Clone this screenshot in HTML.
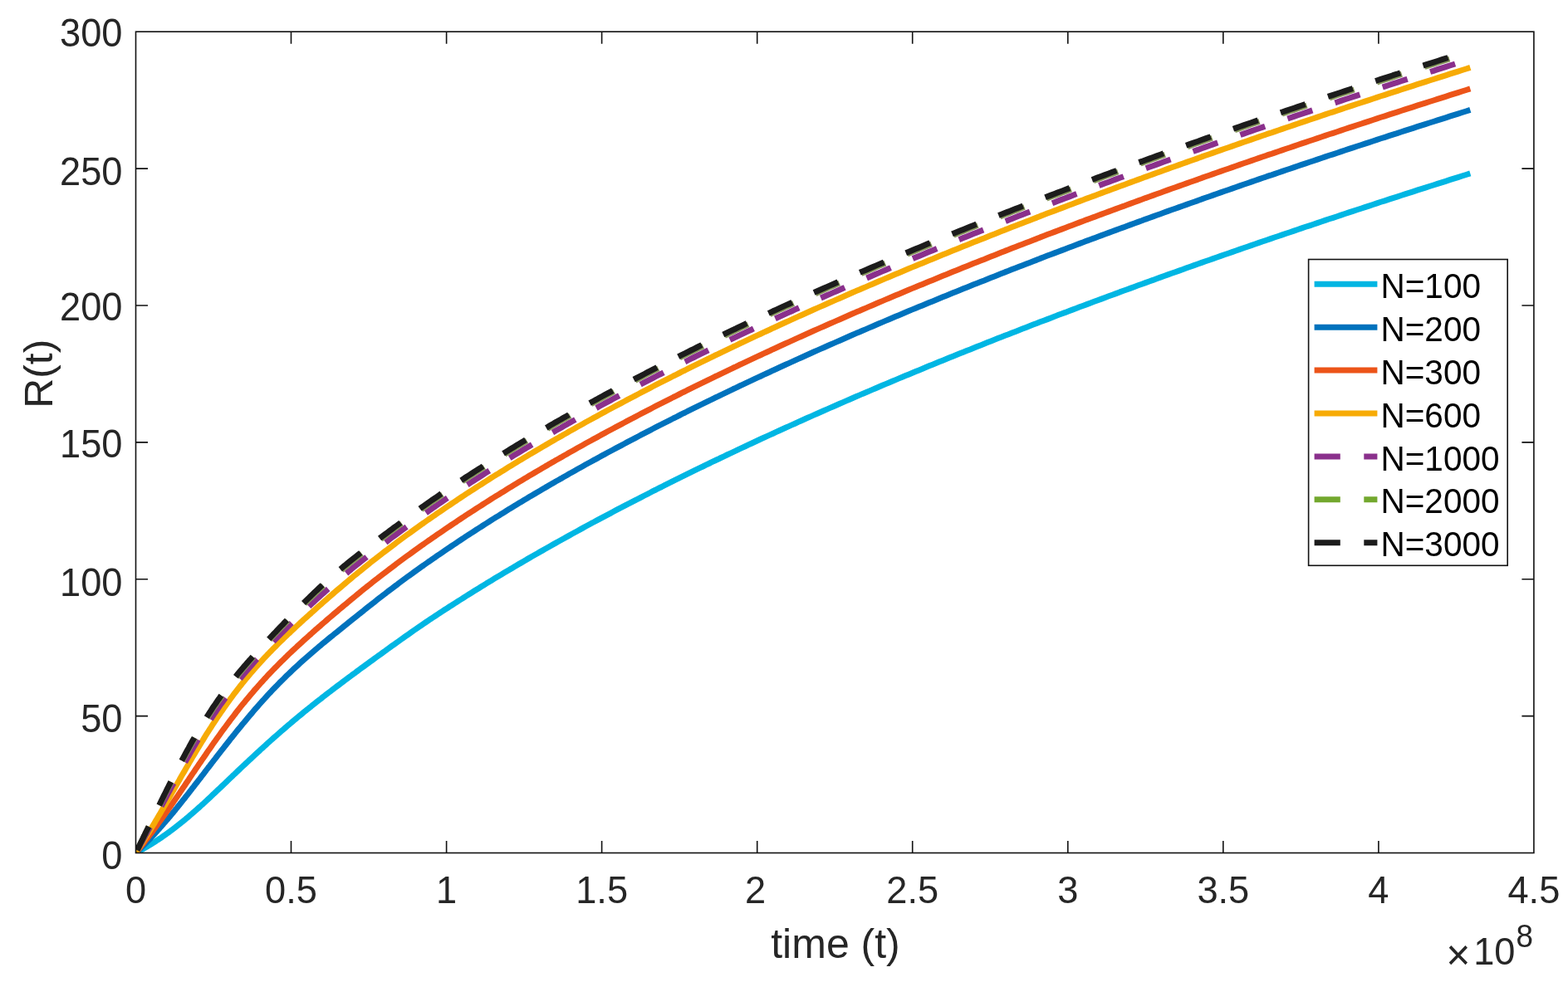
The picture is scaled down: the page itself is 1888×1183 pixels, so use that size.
<!DOCTYPE html>
<html lang="en"><head><meta charset="utf-8"><title>R(t) vs time (t)</title>
<style>
html,body{margin:0;padding:0;background:#fff;}
body{width:1888px;height:1183px;overflow:hidden;}
svg{display:block;}
text{font-family:"Liberation Sans", Arial, Helvetica, sans-serif;fill:#262626;}
.tk{font-size:45.2px;}
.lb{font-size:50px;}
.lg{font-size:40.5px;fill:#000;}
.ax{stroke:#111111;stroke-width:1.6;fill:none;}
.cv{fill:none;stroke-width:7.0;stroke-linejoin:round;stroke-linecap:butt;}
</style></head><body>
<svg width="1888" height="1183" viewBox="0 0 1888 1183">
<rect x="0" y="0" width="1888" height="1183" fill="#ffffff"/>
<defs><clipPath id="cp"><rect x="163.5" y="38.2" width="1683.4" height="989.3"/></clipPath></defs>
<g clip-path="url(#cp)">
<path class="cv" stroke="#00B6E3" d="M163.5,1027.5 L163.6,1027.5 L163.7,1027.4 L163.9,1027.3 L164.2,1027.1 L164.5,1027.0 L164.8,1026.8 L165.1,1026.6 L165.5,1026.4 L165.9,1026.2 L166.4,1026.0 L166.9,1025.7 L167.4,1025.4 L167.9,1025.1 L168.5,1024.8 L169.0,1024.5 L169.6,1024.2 L170.3,1023.8 L170.9,1023.5 L171.6,1023.1 L172.3,1022.7 L173.0,1022.3 L173.7,1021.9 L174.5,1021.4 L175.2,1021.0 L176.0,1020.5 L176.9,1020.1 L177.7,1019.6 L178.5,1019.1 L179.4,1018.5 L180.3,1018.0 L181.2,1017.4 L182.1,1016.9 L183.1,1016.3 L184.0,1015.7 L185.0,1015.1 L186.0,1014.4 L187.0,1013.8 L188.0,1013.1 L189.1,1012.4 L190.1,1011.7 L191.2,1011.0 L192.3,1010.3 L193.4,1009.6 L194.5,1008.8 L195.6,1008.0 L196.8,1007.2 L197.9,1006.4 L199.1,1005.6 L200.3,1004.7 L201.5,1003.8 L202.7,1003.0 L204.0,1002.1 L205.2,1001.1 L206.5,1000.2 L207.8,999.2 L209.1,998.2 L210.4,997.2 L211.7,996.2 L213.1,995.2 L214.4,994.1 L215.8,993.0 L217.1,991.9 L218.5,990.8 L219.9,989.7 L221.4,988.5 L222.8,987.3 L224.2,986.1 L225.7,984.9 L227.2,983.7 L228.6,982.4 L230.1,981.1 L231.6,979.8 L233.2,978.5 L234.7,977.1 L236.2,975.8 L237.8,974.4 L239.4,973.0 L241.0,971.6 L242.5,970.1 L244.2,968.7 L245.8,967.2 L247.4,965.7 L249.0,964.2 L250.7,962.6 L252.4,961.1 L254.1,959.5 L255.7,957.9 L257.4,956.3 L259.2,954.7 L260.9,953.0 L262.6,951.4 L264.4,949.7 L266.1,948.1 L267.9,946.4 L269.7,944.7 L271.5,943.0 L273.3,941.2 L275.1,939.5 L276.9,937.8 L278.8,936.0 L280.6,934.2 L282.5,932.5 L284.3,930.7 L286.2,928.9 L288.1,927.1 L290.0,925.3 L291.9,923.5 L293.9,921.7 L295.8,919.9 L297.8,918.0 L299.7,916.2 L301.7,914.4 L303.7,912.5 L305.6,910.7 L307.6,908.8 L309.7,906.9 L311.7,905.1 L313.7,903.2 L315.8,901.4 L317.8,899.5 L319.9,897.6 L321.9,895.7 L324.0,893.9 L326.1,892.0 L328.2,890.1 L330.3,888.2 L332.5,886.4 L334.6,884.5 L336.7,882.6 L338.9,880.7 L341.1,878.8 L343.2,877.0 L345.4,875.1 L347.6,873.2 L349.8,871.4 L352.0,869.5 L354.2,867.6 L356.5,865.7 L358.7,863.9 L361.0,862.0 L363.2,860.2 L365.5,858.3 L367.8,856.4 L370.1,854.6 L372.4,852.7 L374.7,850.9 L377.0,849.0 L379.3,847.2 L381.7,845.3 L384.0,843.5 L386.4,841.7 L388.7,839.8 L391.1,838.0 L393.5,836.1 L395.9,834.3 L398.3,832.5 L400.7,830.6 L403.1,828.8 L405.6,826.9 L408.0,825.1 L410.5,823.2 L412.9,821.4 L415.4,819.5 L417.9,817.7 L420.3,815.8 L422.8,814.0 L425.3,812.1 L427.9,810.3 L430.4,808.4 L432.9,806.5 L435.4,804.7 L438.0,802.8 L440.6,800.9 L443.1,799.1 L445.7,797.2 L448.3,795.3 L450.9,793.4 L453.5,791.5 L456.1,789.6 L458.7,787.8 L461.3,785.9 L464.0,784.0 L466.6,782.0 L469.3,780.1 L471.9,778.2 L474.6,776.3 L477.3,774.4 L480.0,772.5 L482.7,770.5 L485.4,768.6 L488.1,766.7 L490.8,764.8 L493.6,762.8 L496.3,760.9 L499.0,759.0 L501.8,757.1 L504.6,755.2 L507.3,753.3 L510.1,751.4 L512.9,749.5 L515.7,747.6 L518.5,745.7 L521.3,743.9 L524.2,742.0 L527.0,740.1 L529.8,738.3 L532.7,736.4 L535.5,734.5 L538.4,732.7 L541.3,730.8 L544.2,729.0 L547.1,727.1 L550.0,725.3 L552.9,723.4 L555.8,721.6 L558.7,719.7 L561.6,717.9 L564.6,716.0 L567.5,714.2 L570.5,712.3 L573.4,710.5 L576.4,708.7 L579.4,706.8 L582.4,705.0 L585.4,703.1 L588.4,701.3 L591.4,699.5 L594.4,697.6 L597.4,695.8 L600.5,694.0 L603.5,692.2 L606.6,690.3 L609.6,688.5 L612.7,686.7 L615.8,684.9 L618.9,683.0 L621.9,681.2 L625.0,679.4 L628.2,677.6 L631.3,675.8 L634.4,673.9 L637.5,672.1 L640.7,670.3 L643.8,668.5 L647.0,666.7 L650.1,664.9 L653.3,663.1 L656.5,661.3 L659.7,659.5 L662.8,657.7 L666.0,655.9 L669.2,654.1 L672.5,652.3 L675.7,650.5 L678.9,648.7 L682.2,646.9 L685.4,645.1 L688.7,643.3 L691.9,641.5 L695.2,639.7 L698.5,637.9 L701.7,636.1 L705.0,634.3 L708.3,632.5 L711.6,630.7 L714.9,629.0 L718.3,627.2 L721.6,625.4 L724.9,623.6 L728.3,621.8 L731.6,620.1 L735.0,618.3 L738.3,616.5 L741.7,614.7 L745.1,612.9 L748.5,611.2 L751.9,609.4 L755.3,607.6 L758.7,605.9 L762.1,604.1 L765.5,602.3 L769.0,600.6 L772.4,598.8 L775.9,597.0 L779.3,595.3 L782.8,593.5 L786.2,591.7 L789.7,590.0 L793.2,588.2 L796.7,586.5 L800.2,584.7 L803.7,582.9 L807.2,581.2 L810.7,579.4 L814.2,577.7 L817.8,575.9 L821.3,574.2 L824.9,572.4 L828.4,570.7 L832.0,568.9 L835.5,567.2 L839.1,565.4 L842.7,563.7 L846.3,562.0 L849.9,560.2 L853.5,558.5 L857.1,556.7 L860.7,555.0 L864.4,553.3 L868.0,551.5 L871.6,549.8 L875.3,548.0 L878.9,546.3 L882.6,544.6 L886.3,542.9 L889.9,541.1 L893.6,539.4 L897.3,537.7 L901.0,535.9 L904.7,534.2 L908.4,532.5 L912.1,530.8 L915.8,529.0 L919.6,527.3 L923.3,525.6 L927.1,523.9 L930.8,522.2 L934.6,520.4 L938.3,518.7 L942.1,517.0 L945.9,515.3 L949.7,513.6 L953.5,511.9 L957.3,510.2 L961.1,508.4 L964.9,506.7 L968.7,505.0 L972.5,503.3 L976.4,501.6 L980.2,499.9 L984.0,498.2 L987.9,496.5 L991.8,494.8 L995.6,493.1 L999.5,491.4 L1003.4,489.7 L1007.3,488.0 L1011.2,486.3 L1015.1,484.6 L1019.0,482.9 L1022.9,481.2 L1026.8,479.5 L1030.7,477.8 L1034.7,476.1 L1038.6,474.4 L1042.6,472.8 L1046.5,471.1 L1050.5,469.4 L1054.4,467.7 L1058.4,466.0 L1062.4,464.3 L1066.4,462.6 L1070.4,461.0 L1074.4,459.3 L1078.4,457.6 L1082.4,455.9 L1086.4,454.2 L1090.4,452.6 L1094.5,450.9 L1098.5,449.2 L1102.6,447.5 L1106.6,445.9 L1110.7,444.2 L1114.7,442.5 L1118.8,440.8 L1122.9,439.2 L1127.0,437.5 L1131.1,435.8 L1135.2,434.2 L1139.3,432.5 L1143.4,430.8 L1147.5,429.2 L1151.6,427.5 L1155.8,425.8 L1159.9,424.2 L1164.0,422.5 L1168.2,420.9 L1172.3,419.2 L1176.5,417.5 L1180.7,415.9 L1184.9,414.2 L1189.0,412.6 L1193.2,410.9 L1197.4,409.3 L1201.6,407.6 L1205.8,406.0 L1210.0,404.3 L1214.3,402.7 L1218.5,401.0 L1222.7,399.4 L1227.0,397.7 L1231.2,396.1 L1235.5,394.4 L1239.7,392.8 L1244.0,391.1 L1248.3,389.5 L1252.5,387.8 L1256.8,386.2 L1261.1,384.6 L1265.4,382.9 L1269.7,381.3 L1274.0,379.6 L1278.3,378.0 L1282.7,376.4 L1287.0,374.7 L1291.3,373.1 L1295.7,371.5 L1300.0,369.8 L1304.4,368.2 L1308.7,366.6 L1313.1,364.9 L1317.5,363.3 L1321.8,361.7 L1326.2,360.1 L1330.6,358.4 L1335.0,356.8 L1339.4,355.2 L1343.8,353.6 L1348.2,351.9 L1352.7,350.3 L1357.1,348.7 L1361.5,347.1 L1366.0,345.4 L1370.4,343.8 L1374.9,342.2 L1379.3,340.6 L1383.8,339.0 L1388.3,337.4 L1392.7,335.7 L1397.2,334.1 L1401.7,332.5 L1406.2,330.9 L1410.7,329.3 L1415.2,327.7 L1419.7,326.1 L1424.3,324.5 L1428.8,322.8 L1433.3,321.2 L1437.8,319.6 L1442.4,318.0 L1446.9,316.4 L1451.5,314.8 L1456.1,313.2 L1460.6,311.6 L1465.2,310.0 L1469.8,308.4 L1474.4,306.8 L1479.0,305.2 L1483.6,303.6 L1488.2,302.0 L1492.8,300.4 L1497.4,298.8 L1502.0,297.2 L1506.6,295.6 L1511.3,294.0 L1515.9,292.4 L1520.6,290.8 L1525.2,289.2 L1529.9,287.6 L1534.5,286.0 L1539.2,284.5 L1543.9,282.9 L1548.6,281.3 L1553.3,279.7 L1558.0,278.1 L1562.7,276.5 L1567.4,274.9 L1572.1,273.3 L1576.8,271.8 L1581.5,270.2 L1586.2,268.6 L1591.0,267.0 L1595.7,265.4 L1600.5,263.8 L1605.2,262.3 L1610.0,260.7 L1614.7,259.1 L1619.5,257.5 L1624.3,255.9 L1629.1,254.4 L1633.9,252.8 L1638.7,251.2 L1643.5,249.6 L1648.3,248.1 L1653.1,246.5 L1657.9,244.9 L1662.7,243.3 L1667.5,241.8 L1672.4,240.2 L1677.2,238.6 L1682.1,237.1 L1686.9,235.5 L1691.8,233.9 L1696.6,232.4 L1701.5,230.8 L1706.4,229.2 L1711.3,227.7 L1716.2,226.1 L1721.1,224.5 L1726.0,223.0 L1730.9,221.4 L1735.8,219.8 L1740.7,218.3 L1745.6,216.7 L1750.5,215.2 L1755.5,213.6 L1760.4,212.0 L1765.3,210.5 L1770.3,208.9"/>
<path class="cv" stroke="#0072BD" d="M163.5,1027.5 L163.6,1027.4 L163.7,1027.3 L163.9,1027.1 L164.2,1026.9 L164.5,1026.6 L164.8,1026.3 L165.1,1025.9 L165.5,1025.6 L165.9,1025.2 L166.4,1024.7 L166.9,1024.3 L167.4,1023.8 L167.9,1023.3 L168.5,1022.7 L169.0,1022.2 L169.6,1021.6 L170.3,1021.0 L170.9,1020.3 L171.6,1019.7 L172.3,1019.0 L173.0,1018.2 L173.7,1017.5 L174.5,1016.7 L175.2,1016.0 L176.0,1015.2 L176.9,1014.3 L177.7,1013.5 L178.5,1012.6 L179.4,1011.7 L180.3,1010.8 L181.2,1009.8 L182.1,1008.8 L183.1,1007.8 L184.0,1006.8 L185.0,1005.7 L186.0,1004.7 L187.0,1003.6 L188.0,1002.5 L189.1,1001.3 L190.1,1000.1 L191.2,999.0 L192.3,997.7 L193.4,996.5 L194.5,995.2 L195.6,993.9 L196.8,992.6 L197.9,991.3 L199.1,989.9 L200.3,988.5 L201.5,987.1 L202.7,985.7 L204.0,984.2 L205.2,982.7 L206.5,981.2 L207.8,979.6 L209.1,978.1 L210.4,976.5 L211.7,974.8 L213.1,973.2 L214.4,971.5 L215.8,969.8 L217.1,968.1 L218.5,966.4 L219.9,964.6 L221.4,962.8 L222.8,961.0 L224.2,959.2 L225.7,957.3 L227.2,955.4 L228.6,953.5 L230.1,951.6 L231.6,949.6 L233.2,947.7 L234.7,945.7 L236.2,943.7 L237.8,941.7 L239.4,939.6 L241.0,937.6 L242.5,935.5 L244.2,933.4 L245.8,931.3 L247.4,929.1 L249.0,927.0 L250.7,924.8 L252.4,922.7 L254.1,920.5 L255.7,918.3 L257.4,916.1 L259.2,913.9 L260.9,911.6 L262.6,909.4 L264.4,907.1 L266.1,904.9 L267.9,902.6 L269.7,900.3 L271.5,898.0 L273.3,895.8 L275.1,893.5 L276.9,891.1 L278.8,888.8 L280.6,886.5 L282.5,884.2 L284.3,881.9 L286.2,879.5 L288.1,877.2 L290.0,874.9 L291.9,872.5 L293.9,870.2 L295.8,867.9 L297.8,865.5 L299.7,863.2 L301.7,860.9 L303.7,858.6 L305.6,856.2 L307.6,853.9 L309.7,851.6 L311.7,849.3 L313.7,847.0 L315.8,844.7 L317.8,842.5 L319.9,840.2 L321.9,837.9 L324.0,835.7 L326.1,833.5 L328.2,831.2 L330.3,829.0 L332.5,826.8 L334.6,824.6 L336.7,822.4 L338.9,820.3 L341.1,818.1 L343.2,816.0 L345.4,813.8 L347.6,811.7 L349.8,809.6 L352.0,807.5 L354.2,805.4 L356.5,803.3 L358.7,801.3 L361.0,799.2 L363.2,797.2 L365.5,795.1 L367.8,793.1 L370.1,791.1 L372.4,789.1 L374.7,787.1 L377.0,785.1 L379.3,783.1 L381.7,781.1 L384.0,779.1 L386.4,777.2 L388.7,775.2 L391.1,773.2 L393.5,771.3 L395.9,769.3 L398.3,767.3 L400.7,765.4 L403.1,763.4 L405.6,761.4 L408.0,759.5 L410.5,757.5 L412.9,755.5 L415.4,753.5 L417.9,751.5 L420.3,749.5 L422.8,747.5 L425.3,745.5 L427.9,743.5 L430.4,741.5 L432.9,739.4 L435.4,737.4 L438.0,735.4 L440.6,733.3 L443.1,731.3 L445.7,729.3 L448.3,727.2 L450.9,725.2 L453.5,723.1 L456.1,721.1 L458.7,719.1 L461.3,717.0 L464.0,715.0 L466.6,712.9 L469.3,710.9 L471.9,708.9 L474.6,706.9 L477.3,704.9 L480.0,702.8 L482.7,700.8 L485.4,698.8 L488.1,696.8 L490.8,694.8 L493.6,692.8 L496.3,690.9 L499.0,688.9 L501.8,686.9 L504.6,684.9 L507.3,682.9 L510.1,681.0 L512.9,679.0 L515.7,677.0 L518.5,675.1 L521.3,673.1 L524.2,671.2 L527.0,669.2 L529.8,667.3 L532.7,665.3 L535.5,663.4 L538.4,661.4 L541.3,659.5 L544.2,657.5 L547.1,655.6 L550.0,653.7 L552.9,651.7 L555.8,649.8 L558.7,647.9 L561.6,645.9 L564.6,644.0 L567.5,642.1 L570.5,640.2 L573.4,638.3 L576.4,636.4 L579.4,634.5 L582.4,632.5 L585.4,630.6 L588.4,628.7 L591.4,626.8 L594.4,624.9 L597.4,623.0 L600.5,621.2 L603.5,619.3 L606.6,617.4 L609.6,615.5 L612.7,613.6 L615.8,611.7 L618.9,609.8 L621.9,608.0 L625.0,606.1 L628.2,604.2 L631.3,602.3 L634.4,600.5 L637.5,598.6 L640.7,596.7 L643.8,594.9 L647.0,593.0 L650.1,591.2 L653.3,589.3 L656.5,587.4 L659.7,585.6 L662.8,583.7 L666.0,581.9 L669.2,580.0 L672.5,578.2 L675.7,576.4 L678.9,574.5 L682.2,572.7 L685.4,570.8 L688.7,569.0 L691.9,567.2 L695.2,565.3 L698.5,563.5 L701.7,561.7 L705.0,559.8 L708.3,558.0 L711.6,556.2 L714.9,554.4 L718.3,552.6 L721.6,550.7 L724.9,548.9 L728.3,547.1 L731.6,545.3 L735.0,543.5 L738.3,541.7 L741.7,539.9 L745.1,538.1 L748.5,536.3 L751.9,534.5 L755.3,532.6 L758.7,530.8 L762.1,529.1 L765.5,527.3 L769.0,525.5 L772.4,523.7 L775.9,521.9 L779.3,520.1 L782.8,518.3 L786.2,516.5 L789.7,514.7 L793.2,512.9 L796.7,511.2 L800.2,509.4 L803.7,507.6 L807.2,505.8 L810.7,504.0 L814.2,502.3 L817.8,500.5 L821.3,498.7 L824.9,497.0 L828.4,495.2 L832.0,493.4 L835.5,491.7 L839.1,489.9 L842.7,488.1 L846.3,486.4 L849.9,484.6 L853.5,482.8 L857.1,481.1 L860.7,479.3 L864.4,477.6 L868.0,475.8 L871.6,474.1 L875.3,472.3 L878.9,470.6 L882.6,468.8 L886.3,467.1 L889.9,465.3 L893.6,463.6 L897.3,461.8 L901.0,460.1 L904.7,458.4 L908.4,456.6 L912.1,454.9 L915.8,453.2 L919.6,451.4 L923.3,449.7 L927.1,448.0 L930.8,446.2 L934.6,444.5 L938.3,442.8 L942.1,441.0 L945.9,439.3 L949.7,437.6 L953.5,435.9 L957.3,434.1 L961.1,432.4 L964.9,430.7 L968.7,429.0 L972.5,427.3 L976.4,425.5 L980.2,423.8 L984.0,422.1 L987.9,420.4 L991.8,418.7 L995.6,417.0 L999.5,415.3 L1003.4,413.6 L1007.3,411.9 L1011.2,410.2 L1015.1,408.5 L1019.0,406.8 L1022.9,405.0 L1026.8,403.3 L1030.7,401.6 L1034.7,400.0 L1038.6,398.3 L1042.6,396.6 L1046.5,394.9 L1050.5,393.2 L1054.4,391.5 L1058.4,389.8 L1062.4,388.1 L1066.4,386.4 L1070.4,384.7 L1074.4,383.0 L1078.4,381.3 L1082.4,379.7 L1086.4,378.0 L1090.4,376.3 L1094.5,374.6 L1098.5,372.9 L1102.6,371.2 L1106.6,369.6 L1110.7,367.9 L1114.7,366.2 L1118.8,364.5 L1122.9,362.9 L1127.0,361.2 L1131.1,359.5 L1135.2,357.8 L1139.3,356.2 L1143.4,354.5 L1147.5,352.8 L1151.6,351.2 L1155.8,349.5 L1159.9,347.8 L1164.0,346.2 L1168.2,344.5 L1172.3,342.8 L1176.5,341.2 L1180.7,339.5 L1184.9,337.9 L1189.0,336.2 L1193.2,334.5 L1197.4,332.9 L1201.6,331.2 L1205.8,329.6 L1210.0,327.9 L1214.3,326.3 L1218.5,324.6 L1222.7,323.0 L1227.0,321.3 L1231.2,319.7 L1235.5,318.0 L1239.7,316.4 L1244.0,314.7 L1248.3,313.1 L1252.5,311.4 L1256.8,309.8 L1261.1,308.1 L1265.4,306.5 L1269.7,304.9 L1274.0,303.2 L1278.3,301.6 L1282.7,299.9 L1287.0,298.3 L1291.3,296.7 L1295.7,295.0 L1300.0,293.4 L1304.4,291.8 L1308.7,290.1 L1313.1,288.5 L1317.5,286.9 L1321.8,285.2 L1326.2,283.6 L1330.6,282.0 L1335.0,280.4 L1339.4,278.7 L1343.8,277.1 L1348.2,275.5 L1352.7,273.9 L1357.1,272.2 L1361.5,270.6 L1366.0,269.0 L1370.4,267.4 L1374.9,265.8 L1379.3,264.1 L1383.8,262.5 L1388.3,260.9 L1392.7,259.3 L1397.2,257.7 L1401.7,256.0 L1406.2,254.4 L1410.7,252.8 L1415.2,251.2 L1419.7,249.6 L1424.3,248.0 L1428.8,246.4 L1433.3,244.8 L1437.8,243.2 L1442.4,241.6 L1446.9,239.9 L1451.5,238.3 L1456.1,236.7 L1460.6,235.1 L1465.2,233.5 L1469.8,231.9 L1474.4,230.3 L1479.0,228.7 L1483.6,227.1 L1488.2,225.5 L1492.8,223.9 L1497.4,222.3 L1502.0,220.7 L1506.6,219.1 L1511.3,217.5 L1515.9,215.9 L1520.6,214.3 L1525.2,212.7 L1529.9,211.2 L1534.5,209.6 L1539.2,208.0 L1543.9,206.4 L1548.6,204.8 L1553.3,203.2 L1558.0,201.6 L1562.7,200.0 L1567.4,198.4 L1572.1,196.9 L1576.8,195.3 L1581.5,193.7 L1586.2,192.1 L1591.0,190.5 L1595.7,188.9 L1600.5,187.3 L1605.2,185.8 L1610.0,184.2 L1614.7,182.6 L1619.5,181.0 L1624.3,179.4 L1629.1,177.9 L1633.9,176.3 L1638.7,174.7 L1643.5,173.1 L1648.3,171.6 L1653.1,170.0 L1657.9,168.4 L1662.7,166.8 L1667.5,165.3 L1672.4,163.7 L1677.2,162.1 L1682.1,160.6 L1686.9,159.0 L1691.8,157.4 L1696.6,155.9 L1701.5,154.3 L1706.4,152.7 L1711.3,151.2 L1716.2,149.6 L1721.1,148.0 L1726.0,146.5 L1730.9,144.9 L1735.8,143.3 L1740.7,141.8 L1745.6,140.2 L1750.5,138.7 L1755.5,137.1 L1760.4,135.5 L1765.3,134.0 L1770.3,132.4"/>
<path class="cv" stroke="#EC5419" d="M163.5,1027.5 L163.6,1027.4 L163.7,1027.2 L163.9,1027.0 L164.2,1026.7 L164.5,1026.3 L164.8,1025.9 L165.1,1025.5 L165.5,1025.0 L165.9,1024.5 L166.4,1023.9 L166.9,1023.3 L167.4,1022.7 L167.9,1022.0 L168.5,1021.3 L169.0,1020.6 L169.6,1019.8 L170.3,1019.0 L170.9,1018.2 L171.6,1017.4 L172.3,1016.5 L173.0,1015.5 L173.7,1014.6 L174.5,1013.6 L175.2,1012.6 L176.0,1011.6 L176.9,1010.5 L177.7,1009.5 L178.5,1008.3 L179.4,1007.2 L180.3,1006.0 L181.2,1004.8 L182.1,1003.6 L183.1,1002.3 L184.0,1001.1 L185.0,999.7 L186.0,998.4 L187.0,997.0 L188.0,995.7 L189.1,994.2 L190.1,992.8 L191.2,991.3 L192.3,989.8 L193.4,988.3 L194.5,986.7 L195.6,985.1 L196.8,983.5 L197.9,981.8 L199.1,980.2 L200.3,978.5 L201.5,976.8 L202.7,975.0 L204.0,973.2 L205.2,971.4 L206.5,969.6 L207.8,967.7 L209.1,965.9 L210.4,963.9 L211.7,962.0 L213.1,960.1 L214.4,958.1 L215.8,956.1 L217.1,954.0 L218.5,952.0 L219.9,949.9 L221.4,947.8 L222.8,945.7 L224.2,943.5 L225.7,941.4 L227.2,939.2 L228.6,937.0 L230.1,934.8 L231.6,932.5 L233.2,930.3 L234.7,928.0 L236.2,925.7 L237.8,923.4 L239.4,921.1 L241.0,918.8 L242.5,916.5 L244.2,914.1 L245.8,911.7 L247.4,909.4 L249.0,907.0 L250.7,904.6 L252.4,902.2 L254.1,899.8 L255.7,897.4 L257.4,894.9 L259.2,892.5 L260.9,890.1 L262.6,887.7 L264.4,885.2 L266.1,882.8 L267.9,880.3 L269.7,877.9 L271.5,875.5 L273.3,873.0 L275.1,870.6 L276.9,868.1 L278.8,865.7 L280.6,863.3 L282.5,860.9 L284.3,858.4 L286.2,856.0 L288.1,853.6 L290.0,851.2 L291.9,848.8 L293.9,846.5 L295.8,844.1 L297.8,841.7 L299.7,839.4 L301.7,837.0 L303.7,834.7 L305.6,832.4 L307.6,830.1 L309.7,827.8 L311.7,825.5 L313.7,823.2 L315.8,821.0 L317.8,818.7 L319.9,816.5 L321.9,814.2 L324.0,812.0 L326.1,809.8 L328.2,807.6 L330.3,805.5 L332.5,803.3 L334.6,801.1 L336.7,799.0 L338.9,796.8 L341.1,794.7 L343.2,792.6 L345.4,790.5 L347.6,788.3 L349.8,786.2 L352.0,784.1 L354.2,782.1 L356.5,780.0 L358.7,777.9 L361.0,775.8 L363.2,773.8 L365.5,771.7 L367.8,769.6 L370.1,767.6 L372.4,765.5 L374.7,763.5 L377.0,761.4 L379.3,759.3 L381.7,757.3 L384.0,755.2 L386.4,753.2 L388.7,751.1 L391.1,749.1 L393.5,747.0 L395.9,744.9 L398.3,742.9 L400.7,740.8 L403.1,738.8 L405.6,736.7 L408.0,734.6 L410.5,732.6 L412.9,730.5 L415.4,728.4 L417.9,726.4 L420.3,724.3 L422.8,722.2 L425.3,720.2 L427.9,718.1 L430.4,716.0 L432.9,714.0 L435.4,711.9 L438.0,709.8 L440.6,707.8 L443.1,705.7 L445.7,703.7 L448.3,701.6 L450.9,699.6 L453.5,697.6 L456.1,695.5 L458.7,693.5 L461.3,691.5 L464.0,689.4 L466.6,687.4 L469.3,685.4 L471.9,683.4 L474.6,681.4 L477.3,679.3 L480.0,677.3 L482.7,675.3 L485.4,673.3 L488.1,671.3 L490.8,669.3 L493.6,667.4 L496.3,665.4 L499.0,663.4 L501.8,661.4 L504.6,659.4 L507.3,657.4 L510.1,655.5 L512.9,653.5 L515.7,651.5 L518.5,649.6 L521.3,647.6 L524.2,645.7 L527.0,643.7 L529.8,641.8 L532.7,639.8 L535.5,637.9 L538.4,635.9 L541.3,634.0 L544.2,632.0 L547.1,630.1 L550.0,628.2 L552.9,626.2 L555.8,624.3 L558.7,622.4 L561.6,620.4 L564.6,618.5 L567.5,616.6 L570.5,614.7 L573.4,612.8 L576.4,610.9 L579.4,609.0 L582.4,607.0 L585.4,605.1 L588.4,603.2 L591.4,601.3 L594.4,599.4 L597.4,597.5 L600.5,595.7 L603.5,593.8 L606.6,591.9 L609.6,590.0 L612.7,588.1 L615.8,586.2 L618.9,584.3 L621.9,582.5 L625.0,580.6 L628.2,578.7 L631.3,576.8 L634.4,575.0 L637.5,573.1 L640.7,571.2 L643.8,569.4 L647.0,567.5 L650.1,565.7 L653.3,563.8 L656.5,561.9 L659.7,560.1 L662.8,558.2 L666.0,556.4 L669.2,554.5 L672.5,552.7 L675.7,550.9 L678.9,549.0 L682.2,547.2 L685.4,545.3 L688.7,543.5 L691.9,541.7 L695.2,539.8 L698.5,538.0 L701.7,536.2 L705.0,534.3 L708.3,532.5 L711.6,530.7 L714.9,528.9 L718.3,527.1 L721.6,525.2 L724.9,523.4 L728.3,521.6 L731.6,519.8 L735.0,518.0 L738.3,516.2 L741.7,514.4 L745.1,512.6 L748.5,510.8 L751.9,509.0 L755.3,507.1 L758.7,505.3 L762.1,503.6 L765.5,501.8 L769.0,500.0 L772.4,498.2 L775.9,496.4 L779.3,494.6 L782.8,492.8 L786.2,491.0 L789.7,489.2 L793.2,487.4 L796.7,485.7 L800.2,483.9 L803.7,482.1 L807.2,480.3 L810.7,478.5 L814.2,476.8 L817.8,475.0 L821.3,473.2 L824.9,471.5 L828.4,469.7 L832.0,467.9 L835.5,466.2 L839.1,464.4 L842.7,462.6 L846.3,460.9 L849.9,459.1 L853.5,457.3 L857.1,455.6 L860.7,453.8 L864.4,452.1 L868.0,450.3 L871.6,448.6 L875.3,446.8 L878.9,445.1 L882.6,443.3 L886.3,441.6 L889.9,439.8 L893.6,438.1 L897.3,436.3 L901.0,434.6 L904.7,432.9 L908.4,431.1 L912.1,429.4 L915.8,427.7 L919.6,425.9 L923.3,424.2 L927.1,422.5 L930.8,420.7 L934.6,419.0 L938.3,417.3 L942.1,415.5 L945.9,413.8 L949.7,412.1 L953.5,410.4 L957.3,408.6 L961.1,406.9 L964.9,405.2 L968.7,403.5 L972.5,401.8 L976.4,400.0 L980.2,398.3 L984.0,396.6 L987.9,394.9 L991.8,393.2 L995.6,391.5 L999.5,389.8 L1003.4,388.1 L1007.3,386.4 L1011.2,384.7 L1015.1,383.0 L1019.0,381.3 L1022.9,379.5 L1026.8,377.8 L1030.7,376.1 L1034.7,374.5 L1038.6,372.8 L1042.6,371.1 L1046.5,369.4 L1050.5,367.7 L1054.4,366.0 L1058.4,364.3 L1062.4,362.6 L1066.4,360.9 L1070.4,359.2 L1074.4,357.5 L1078.4,355.8 L1082.4,354.2 L1086.4,352.5 L1090.4,350.8 L1094.5,349.1 L1098.5,347.4 L1102.6,345.7 L1106.6,344.1 L1110.7,342.4 L1114.7,340.7 L1118.8,339.0 L1122.9,337.4 L1127.0,335.7 L1131.1,334.0 L1135.2,332.3 L1139.3,330.7 L1143.4,329.0 L1147.5,327.3 L1151.6,325.7 L1155.8,324.0 L1159.9,322.3 L1164.0,320.7 L1168.2,319.0 L1172.3,317.3 L1176.5,315.7 L1180.7,314.0 L1184.9,312.4 L1189.0,310.7 L1193.2,309.0 L1197.4,307.4 L1201.6,305.7 L1205.8,304.1 L1210.0,302.4 L1214.3,300.8 L1218.5,299.1 L1222.7,297.5 L1227.0,295.8 L1231.2,294.2 L1235.5,292.5 L1239.7,290.9 L1244.0,289.2 L1248.3,287.6 L1252.5,285.9 L1256.8,284.3 L1261.1,282.6 L1265.4,281.0 L1269.7,279.4 L1274.0,277.7 L1278.3,276.1 L1282.7,274.4 L1287.0,272.8 L1291.3,271.2 L1295.7,269.5 L1300.0,267.9 L1304.4,266.3 L1308.7,264.6 L1313.1,263.0 L1317.5,261.4 L1321.8,259.7 L1326.2,258.1 L1330.6,256.5 L1335.0,254.9 L1339.4,253.2 L1343.8,251.6 L1348.2,250.0 L1352.7,248.4 L1357.1,246.7 L1361.5,245.1 L1366.0,243.5 L1370.4,241.9 L1374.9,240.3 L1379.3,238.6 L1383.8,237.0 L1388.3,235.4 L1392.7,233.8 L1397.2,232.2 L1401.7,230.5 L1406.2,228.9 L1410.7,227.3 L1415.2,225.7 L1419.7,224.1 L1424.3,222.5 L1428.8,220.9 L1433.3,219.3 L1437.8,217.7 L1442.4,216.1 L1446.9,214.4 L1451.5,212.8 L1456.1,211.2 L1460.6,209.6 L1465.2,208.0 L1469.8,206.4 L1474.4,204.8 L1479.0,203.2 L1483.6,201.6 L1488.2,200.0 L1492.8,198.4 L1497.4,196.8 L1502.0,195.2 L1506.6,193.6 L1511.3,192.0 L1515.9,190.4 L1520.6,188.8 L1525.2,187.2 L1529.9,185.7 L1534.5,184.1 L1539.2,182.5 L1543.9,180.9 L1548.6,179.3 L1553.3,177.7 L1558.0,176.1 L1562.7,174.5 L1567.4,172.9 L1572.1,171.4 L1576.8,169.8 L1581.5,168.2 L1586.2,166.6 L1591.0,165.0 L1595.7,163.4 L1600.5,161.8 L1605.2,160.3 L1610.0,158.7 L1614.7,157.1 L1619.5,155.5 L1624.3,153.9 L1629.1,152.4 L1633.9,150.8 L1638.7,149.2 L1643.5,147.6 L1648.3,146.1 L1653.1,144.5 L1657.9,142.9 L1662.7,141.3 L1667.5,139.8 L1672.4,138.2 L1677.2,136.6 L1682.1,135.1 L1686.9,133.5 L1691.8,131.9 L1696.6,130.4 L1701.5,128.8 L1706.4,127.2 L1711.3,125.7 L1716.2,124.1 L1721.1,122.5 L1726.0,121.0 L1730.9,119.4 L1735.8,117.8 L1740.7,116.3 L1745.6,114.7 L1750.5,113.2 L1755.5,111.6 L1760.4,110.0 L1765.3,108.5 L1770.3,106.9"/>
<path class="cv" stroke="#F7AB05" d="M163.5,1027.5 L163.6,1027.4 L163.7,1027.2 L163.9,1026.9 L164.2,1026.5 L164.5,1026.0 L164.8,1025.5 L165.1,1025.0 L165.5,1024.4 L165.9,1023.7 L166.4,1023.0 L166.9,1022.3 L167.4,1021.5 L167.9,1020.7 L168.5,1019.8 L169.0,1018.9 L169.6,1018.0 L170.3,1017.0 L170.9,1016.0 L171.6,1014.9 L172.3,1013.8 L173.0,1012.7 L173.7,1011.5 L174.5,1010.3 L175.2,1009.1 L176.0,1007.8 L176.9,1006.5 L177.7,1005.2 L178.5,1003.8 L179.4,1002.4 L180.3,1000.9 L181.2,999.4 L182.1,997.9 L183.1,996.4 L184.0,994.8 L185.0,993.2 L186.0,991.5 L187.0,989.8 L188.0,988.1 L189.1,986.3 L190.1,984.5 L191.2,982.7 L192.3,980.9 L193.4,979.0 L194.5,977.1 L195.6,975.1 L196.8,973.1 L197.9,971.1 L199.1,969.1 L200.3,967.0 L201.5,964.9 L202.7,962.8 L204.0,960.6 L205.2,958.4 L206.5,956.2 L207.8,953.9 L209.1,951.7 L210.4,949.4 L211.7,947.0 L213.1,944.7 L214.4,942.3 L215.8,939.9 L217.1,937.5 L218.5,935.1 L219.9,932.6 L221.4,930.2 L222.8,927.7 L224.2,925.2 L225.7,922.7 L227.2,920.2 L228.6,917.6 L230.1,915.1 L231.6,912.5 L233.2,909.9 L234.7,907.4 L236.2,904.8 L237.8,902.2 L239.4,899.6 L241.0,897.0 L242.5,894.4 L244.2,891.8 L245.8,889.2 L247.4,886.5 L249.0,883.9 L250.7,881.3 L252.4,878.7 L254.1,876.1 L255.7,873.5 L257.4,870.9 L259.2,868.3 L260.9,865.7 L262.6,863.1 L264.4,860.5 L266.1,857.9 L267.9,855.4 L269.7,852.8 L271.5,850.2 L273.3,847.7 L275.1,845.2 L276.9,842.7 L278.8,840.2 L280.6,837.7 L282.5,835.2 L284.3,832.8 L286.2,830.3 L288.1,827.9 L290.0,825.5 L291.9,823.1 L293.9,820.7 L295.8,818.3 L297.8,816.0 L299.7,813.6 L301.7,811.3 L303.7,809.0 L305.6,806.7 L307.6,804.4 L309.7,802.1 L311.7,799.9 L313.7,797.7 L315.8,795.4 L317.8,793.2 L319.9,791.0 L321.9,788.8 L324.0,786.7 L326.1,784.5 L328.2,782.3 L330.3,780.2 L332.5,778.1 L334.6,775.9 L336.7,773.8 L338.9,771.7 L341.1,769.6 L343.2,767.5 L345.4,765.4 L347.6,763.3 L349.8,761.3 L352.0,759.2 L354.2,757.1 L356.5,755.0 L358.7,753.0 L361.0,750.9 L363.2,748.8 L365.5,746.7 L367.8,744.7 L370.1,742.6 L372.4,740.5 L374.7,738.5 L377.0,736.4 L379.3,734.3 L381.7,732.2 L384.0,730.1 L386.4,728.1 L388.7,726.0 L391.1,723.9 L393.5,721.8 L395.9,719.7 L398.3,717.6 L400.7,715.5 L403.1,713.4 L405.6,711.3 L408.0,709.3 L410.5,707.2 L412.9,705.1 L415.4,703.0 L417.9,700.9 L420.3,698.8 L422.8,696.7 L425.3,694.6 L427.9,692.6 L430.4,690.5 L432.9,688.4 L435.4,686.4 L438.0,684.3 L440.6,682.2 L443.1,680.2 L445.7,678.1 L448.3,676.1 L450.9,674.1 L453.5,672.0 L456.1,670.0 L458.7,668.0 L461.3,665.9 L464.0,663.9 L466.6,661.9 L469.3,659.9 L471.9,657.9 L474.6,655.9 L477.3,653.8 L480.0,651.8 L482.7,649.8 L485.4,647.8 L488.1,645.8 L490.8,643.8 L493.6,641.9 L496.3,639.9 L499.0,637.9 L501.8,635.9 L504.6,633.9 L507.3,631.9 L510.1,630.0 L512.9,628.0 L515.7,626.0 L518.5,624.1 L521.3,622.1 L524.2,620.2 L527.0,618.2 L529.8,616.3 L532.7,614.3 L535.5,612.4 L538.4,610.4 L541.3,608.5 L544.2,606.5 L547.1,604.6 L550.0,602.7 L552.9,600.7 L555.8,598.8 L558.7,596.9 L561.6,594.9 L564.6,593.0 L567.5,591.1 L570.5,589.2 L573.4,587.3 L576.4,585.4 L579.4,583.5 L582.4,581.5 L585.4,579.6 L588.4,577.7 L591.4,575.8 L594.4,573.9 L597.4,572.0 L600.5,570.2 L603.5,568.3 L606.6,566.4 L609.6,564.5 L612.7,562.6 L615.8,560.7 L618.9,558.8 L621.9,557.0 L625.0,555.1 L628.2,553.2 L631.3,551.3 L634.4,549.5 L637.5,547.6 L640.7,545.7 L643.8,543.9 L647.0,542.0 L650.1,540.2 L653.3,538.3 L656.5,536.4 L659.7,534.6 L662.8,532.7 L666.0,530.9 L669.2,529.0 L672.5,527.2 L675.7,525.4 L678.9,523.5 L682.2,521.7 L685.4,519.8 L688.7,518.0 L691.9,516.2 L695.2,514.3 L698.5,512.5 L701.7,510.7 L705.0,508.8 L708.3,507.0 L711.6,505.2 L714.9,503.4 L718.3,501.6 L721.6,499.7 L724.9,497.9 L728.3,496.1 L731.6,494.3 L735.0,492.5 L738.3,490.7 L741.7,488.9 L745.1,487.1 L748.5,485.3 L751.9,483.5 L755.3,481.6 L758.7,479.8 L762.1,478.1 L765.5,476.3 L769.0,474.5 L772.4,472.7 L775.9,470.9 L779.3,469.1 L782.8,467.3 L786.2,465.5 L789.7,463.7 L793.2,461.9 L796.7,460.2 L800.2,458.4 L803.7,456.6 L807.2,454.8 L810.7,453.0 L814.2,451.3 L817.8,449.5 L821.3,447.7 L824.9,446.0 L828.4,444.2 L832.0,442.4 L835.5,440.7 L839.1,438.9 L842.7,437.1 L846.3,435.4 L849.9,433.6 L853.5,431.8 L857.1,430.1 L860.7,428.3 L864.4,426.6 L868.0,424.8 L871.6,423.1 L875.3,421.3 L878.9,419.6 L882.6,417.8 L886.3,416.1 L889.9,414.3 L893.6,412.6 L897.3,410.8 L901.0,409.1 L904.7,407.4 L908.4,405.6 L912.1,403.9 L915.8,402.2 L919.6,400.4 L923.3,398.7 L927.1,397.0 L930.8,395.2 L934.6,393.5 L938.3,391.8 L942.1,390.0 L945.9,388.3 L949.7,386.6 L953.5,384.9 L957.3,383.1 L961.1,381.4 L964.9,379.7 L968.7,378.0 L972.5,376.3 L976.4,374.5 L980.2,372.8 L984.0,371.1 L987.9,369.4 L991.8,367.7 L995.6,366.0 L999.5,364.3 L1003.4,362.6 L1007.3,360.9 L1011.2,359.2 L1015.1,357.5 L1019.0,355.8 L1022.9,354.0 L1026.8,352.3 L1030.7,350.6 L1034.7,349.0 L1038.6,347.3 L1042.6,345.6 L1046.5,343.9 L1050.5,342.2 L1054.4,340.5 L1058.4,338.8 L1062.4,337.1 L1066.4,335.4 L1070.4,333.7 L1074.4,332.0 L1078.4,330.3 L1082.4,328.7 L1086.4,327.0 L1090.4,325.3 L1094.5,323.6 L1098.5,321.9 L1102.6,320.2 L1106.6,318.6 L1110.7,316.9 L1114.7,315.2 L1118.8,313.5 L1122.9,311.9 L1127.0,310.2 L1131.1,308.5 L1135.2,306.8 L1139.3,305.2 L1143.4,303.5 L1147.5,301.8 L1151.6,300.2 L1155.8,298.5 L1159.9,296.8 L1164.0,295.2 L1168.2,293.5 L1172.3,291.8 L1176.5,290.2 L1180.7,288.5 L1184.9,286.9 L1189.0,285.2 L1193.2,283.5 L1197.4,281.9 L1201.6,280.2 L1205.8,278.6 L1210.0,276.9 L1214.3,275.3 L1218.5,273.6 L1222.7,272.0 L1227.0,270.3 L1231.2,268.7 L1235.5,267.0 L1239.7,265.4 L1244.0,263.7 L1248.3,262.1 L1252.5,260.4 L1256.8,258.8 L1261.1,257.1 L1265.4,255.5 L1269.7,253.9 L1274.0,252.2 L1278.3,250.6 L1282.7,248.9 L1287.0,247.3 L1291.3,245.7 L1295.7,244.0 L1300.0,242.4 L1304.4,240.8 L1308.7,239.1 L1313.1,237.5 L1317.5,235.9 L1321.8,234.2 L1326.2,232.6 L1330.6,231.0 L1335.0,229.4 L1339.4,227.7 L1343.8,226.1 L1348.2,224.5 L1352.7,222.9 L1357.1,221.2 L1361.5,219.6 L1366.0,218.0 L1370.4,216.4 L1374.9,214.8 L1379.3,213.1 L1383.8,211.5 L1388.3,209.9 L1392.7,208.3 L1397.2,206.7 L1401.7,205.0 L1406.2,203.4 L1410.7,201.8 L1415.2,200.2 L1419.7,198.6 L1424.3,197.0 L1428.8,195.4 L1433.3,193.8 L1437.8,192.2 L1442.4,190.6 L1446.9,188.9 L1451.5,187.3 L1456.1,185.7 L1460.6,184.1 L1465.2,182.5 L1469.8,180.9 L1474.4,179.3 L1479.0,177.7 L1483.6,176.1 L1488.2,174.5 L1492.8,172.9 L1497.4,171.3 L1502.0,169.7 L1506.6,168.1 L1511.3,166.5 L1515.9,164.9 L1520.6,163.3 L1525.2,161.7 L1529.9,160.2 L1534.5,158.6 L1539.2,157.0 L1543.9,155.4 L1548.6,153.8 L1553.3,152.2 L1558.0,150.6 L1562.7,149.0 L1567.4,147.4 L1572.1,145.9 L1576.8,144.3 L1581.5,142.7 L1586.2,141.1 L1591.0,139.5 L1595.7,137.9 L1600.5,136.3 L1605.2,134.8 L1610.0,133.2 L1614.7,131.6 L1619.5,130.0 L1624.3,128.4 L1629.1,126.9 L1633.9,125.3 L1638.7,123.7 L1643.5,122.1 L1648.3,120.6 L1653.1,119.0 L1657.9,117.4 L1662.7,115.8 L1667.5,114.3 L1672.4,112.7 L1677.2,111.1 L1682.1,109.6 L1686.9,108.0 L1691.8,106.4 L1696.6,104.9 L1701.5,103.3 L1706.4,101.7 L1711.3,100.2 L1716.2,98.6 L1721.1,97.0 L1726.0,95.5 L1730.9,93.9 L1735.8,92.3 L1740.7,90.8 L1745.6,89.2 L1750.5,87.7 L1755.5,86.1 L1760.4,84.5 L1765.3,83.0 L1770.3,81.4"/>
<path class="cv" stroke="#8A308C" stroke-dasharray="31.5 28.74" stroke-dashoffset="-3.8" d="M163.5,1027.5 L163.6,1027.4 L163.7,1027.1 L163.9,1026.7 L164.2,1026.3 L164.5,1025.8 L164.8,1025.2 L165.1,1024.6 L165.5,1023.9 L165.9,1023.1 L166.4,1022.3 L166.9,1021.5 L167.4,1020.6 L167.9,1019.6 L168.5,1018.6 L169.0,1017.6 L169.6,1016.5 L170.3,1015.3 L170.9,1014.2 L171.6,1013.0 L172.3,1011.7 L173.0,1010.4 L173.7,1009.1 L174.5,1007.7 L175.2,1006.3 L176.0,1004.9 L176.9,1003.4 L177.7,1001.8 L178.5,1000.3 L179.4,998.7 L180.3,997.1 L181.2,995.4 L182.1,993.7 L183.1,992.0 L184.0,990.2 L185.0,988.4 L186.0,986.6 L187.0,984.7 L188.0,982.8 L189.1,980.8 L190.1,978.9 L191.2,976.9 L192.3,974.8 L193.4,972.8 L194.5,970.7 L195.6,968.6 L196.8,966.4 L197.9,964.2 L199.1,962.0 L200.3,959.8 L201.5,957.5 L202.7,955.2 L204.0,952.9 L205.2,950.6 L206.5,948.2 L207.8,945.8 L209.1,943.4 L210.4,941.0 L211.7,938.5 L213.1,936.0 L214.4,933.6 L215.8,931.0 L217.1,928.5 L218.5,926.0 L219.9,923.4 L221.4,920.9 L222.8,918.3 L224.2,915.7 L225.7,913.1 L227.2,910.5 L228.6,907.9 L230.1,905.3 L231.6,902.7 L233.2,900.0 L234.7,897.4 L236.2,894.8 L237.8,892.2 L239.4,889.5 L241.0,886.9 L242.5,884.3 L244.2,881.6 L245.8,879.0 L247.4,876.4 L249.0,873.8 L250.7,871.2 L252.4,868.6 L254.1,866.0 L255.7,863.4 L257.4,860.8 L259.2,858.3 L260.9,855.7 L262.6,853.2 L264.4,850.6 L266.1,848.1 L267.9,845.6 L269.7,843.1 L271.5,840.6 L273.3,838.1 L275.1,835.7 L276.9,833.2 L278.8,830.8 L280.6,828.4 L282.5,826.0 L284.3,823.6 L286.2,821.2 L288.1,818.8 L290.0,816.5 L291.9,814.1 L293.9,811.8 L295.8,809.5 L297.8,807.2 L299.7,804.9 L301.7,802.6 L303.7,800.4 L305.6,798.1 L307.6,795.8 L309.7,793.6 L311.7,791.4 L313.7,789.2 L315.8,786.9 L317.8,784.7 L319.9,782.5 L321.9,780.3 L324.0,778.1 L326.1,775.9 L328.2,773.8 L330.3,771.6 L332.5,769.4 L334.6,767.2 L336.7,765.0 L338.9,762.8 L341.1,760.7 L343.2,758.5 L345.4,756.3 L347.6,754.1 L349.8,751.9 L352.0,749.7 L354.2,747.6 L356.5,745.4 L358.7,743.2 L361.0,741.0 L363.2,738.8 L365.5,736.7 L367.8,734.5 L370.1,732.3 L372.4,730.1 L374.7,728.0 L377.0,725.8 L379.3,723.7 L381.7,721.5 L384.0,719.4 L386.4,717.2 L388.7,715.1 L391.1,713.0 L393.5,710.8 L395.9,708.7 L398.3,706.6 L400.7,704.5 L403.1,702.4 L405.6,700.3 L408.0,698.2 L410.5,696.2 L412.9,694.1 L415.4,692.0 L417.9,690.0 L420.3,687.9 L422.8,685.9 L425.3,683.8 L427.9,681.8 L430.4,679.8 L432.9,677.7 L435.4,675.7 L438.0,673.7 L440.6,671.7 L443.1,669.7 L445.7,667.7 L448.3,665.7 L450.9,663.7 L453.5,661.7 L456.1,659.7 L458.7,657.7 L461.3,655.7 L464.0,653.7 L466.6,651.7 L469.3,649.6 L471.9,647.6 L474.6,645.6 L477.3,643.6 L480.0,641.6 L482.7,639.6 L485.4,637.7 L488.1,635.7 L490.8,633.7 L493.6,631.7 L496.3,629.7 L499.0,627.7 L501.8,625.7 L504.6,623.7 L507.3,621.7 L510.1,619.8 L512.9,617.8 L515.7,615.8 L518.5,613.9 L521.3,611.9 L524.2,610.0 L527.0,608.0 L529.8,606.0 L532.7,604.1 L535.5,602.2 L538.4,600.2 L541.3,598.3 L544.2,596.3 L547.1,594.4 L550.0,592.5 L552.9,590.5 L555.8,588.6 L558.7,586.7 L561.6,584.7 L564.6,582.8 L567.5,580.9 L570.5,579.0 L573.4,577.1 L576.4,575.2 L579.4,573.3 L582.4,571.3 L585.4,569.4 L588.4,567.5 L591.4,565.6 L594.4,563.7 L597.4,561.8 L600.5,560.0 L603.5,558.1 L606.6,556.2 L609.6,554.3 L612.7,552.4 L615.8,550.5 L618.9,548.6 L621.9,546.8 L625.0,544.9 L628.2,543.0 L631.3,541.1 L634.4,539.3 L637.5,537.4 L640.7,535.5 L643.8,533.7 L647.0,531.8 L650.1,530.0 L653.3,528.1 L656.5,526.2 L659.7,524.4 L662.8,522.5 L666.0,520.7 L669.2,518.8 L672.5,517.0 L675.7,515.2 L678.9,513.3 L682.2,511.5 L685.4,509.6 L688.7,507.8 L691.9,506.0 L695.2,504.1 L698.5,502.3 L701.7,500.5 L705.0,498.6 L708.3,496.8 L711.6,495.0 L714.9,493.2 L718.3,491.4 L721.6,489.5 L724.9,487.7 L728.3,485.9 L731.6,484.1 L735.0,482.3 L738.3,480.5 L741.7,478.7 L745.1,476.9 L748.5,475.1 L751.9,473.3 L755.3,471.4 L758.7,469.6 L762.1,467.9 L765.5,466.1 L769.0,464.3 L772.4,462.5 L775.9,460.7 L779.3,458.9 L782.8,457.1 L786.2,455.3 L789.7,453.5 L793.2,451.7 L796.7,450.0 L800.2,448.2 L803.7,446.4 L807.2,444.6 L810.7,442.8 L814.2,441.1 L817.8,439.3 L821.3,437.5 L824.9,435.8 L828.4,434.0 L832.0,432.2 L835.5,430.5 L839.1,428.7 L842.7,426.9 L846.3,425.2 L849.9,423.4 L853.5,421.6 L857.1,419.9 L860.7,418.1 L864.4,416.4 L868.0,414.6 L871.6,412.9 L875.3,411.1 L878.9,409.4 L882.6,407.6 L886.3,405.9 L889.9,404.1 L893.6,402.4 L897.3,400.6 L901.0,398.9 L904.7,397.2 L908.4,395.4 L912.1,393.7 L915.8,392.0 L919.6,390.2 L923.3,388.5 L927.1,386.8 L930.8,385.0 L934.6,383.3 L938.3,381.6 L942.1,379.8 L945.9,378.1 L949.7,376.4 L953.5,374.7 L957.3,372.9 L961.1,371.2 L964.9,369.5 L968.7,367.8 L972.5,366.1 L976.4,364.3 L980.2,362.6 L984.0,360.9 L987.9,359.2 L991.8,357.5 L995.6,355.8 L999.5,354.1 L1003.4,352.4 L1007.3,350.7 L1011.2,349.0 L1015.1,347.3 L1019.0,345.6 L1022.9,343.8 L1026.8,342.1 L1030.7,340.4 L1034.7,338.8 L1038.6,337.1 L1042.6,335.4 L1046.5,333.7 L1050.5,332.0 L1054.4,330.3 L1058.4,328.6 L1062.4,326.9 L1066.4,325.2 L1070.4,323.5 L1074.4,321.8 L1078.4,320.1 L1082.4,318.5 L1086.4,316.8 L1090.4,315.1 L1094.5,313.4 L1098.5,311.7 L1102.6,310.0 L1106.6,308.4 L1110.7,306.7 L1114.7,305.0 L1118.8,303.3 L1122.9,301.7 L1127.0,300.0 L1131.1,298.3 L1135.2,296.6 L1139.3,295.0 L1143.4,293.3 L1147.5,291.6 L1151.6,290.0 L1155.8,288.3 L1159.9,286.6 L1164.0,285.0 L1168.2,283.3 L1172.3,281.6 L1176.5,280.0 L1180.7,278.3 L1184.9,276.7 L1189.0,275.0 L1193.2,273.3 L1197.4,271.7 L1201.6,270.0 L1205.8,268.4 L1210.0,266.7 L1214.3,265.1 L1218.5,263.4 L1222.7,261.8 L1227.0,260.1 L1231.2,258.5 L1235.5,256.8 L1239.7,255.2 L1244.0,253.5 L1248.3,251.9 L1252.5,250.2 L1256.8,248.6 L1261.1,246.9 L1265.4,245.3 L1269.7,243.7 L1274.0,242.0 L1278.3,240.4 L1282.7,238.7 L1287.0,237.1 L1291.3,235.5 L1295.7,233.8 L1300.0,232.2 L1304.4,230.6 L1308.7,228.9 L1313.1,227.3 L1317.5,225.7 L1321.8,224.0 L1326.2,222.4 L1330.6,220.8 L1335.0,219.2 L1339.4,217.5 L1343.8,215.9 L1348.2,214.3 L1352.7,212.7 L1357.1,211.0 L1361.5,209.4 L1366.0,207.8 L1370.4,206.2 L1374.9,204.6 L1379.3,202.9 L1383.8,201.3 L1388.3,199.7 L1392.7,198.1 L1397.2,196.5 L1401.7,194.8 L1406.2,193.2 L1410.7,191.6 L1415.2,190.0 L1419.7,188.4 L1424.3,186.8 L1428.8,185.2 L1433.3,183.6 L1437.8,182.0 L1442.4,180.4 L1446.9,178.7 L1451.5,177.1 L1456.1,175.5 L1460.6,173.9 L1465.2,172.3 L1469.8,170.7 L1474.4,169.1 L1479.0,167.5 L1483.6,165.9 L1488.2,164.3 L1492.8,162.7 L1497.4,161.1 L1502.0,159.5 L1506.6,157.9 L1511.3,156.3 L1515.9,154.7 L1520.6,153.1 L1525.2,151.5 L1529.9,150.0 L1534.5,148.4 L1539.2,146.8 L1543.9,145.2 L1548.6,143.6 L1553.3,142.0 L1558.0,140.4 L1562.7,138.8 L1567.4,137.2 L1572.1,135.7 L1576.8,134.1 L1581.5,132.5 L1586.2,130.9 L1591.0,129.3 L1595.7,127.7 L1600.5,126.1 L1605.2,124.6 L1610.0,123.0 L1614.7,121.4 L1619.5,119.8 L1624.3,118.2 L1629.1,116.7 L1633.9,115.1 L1638.7,113.5 L1643.5,111.9 L1648.3,110.4 L1653.1,108.8 L1657.9,107.2 L1662.7,105.6 L1667.5,104.1 L1672.4,102.5 L1677.2,100.9 L1682.1,99.4 L1686.9,97.8 L1691.8,96.2 L1696.6,94.7 L1701.5,93.1 L1706.4,91.5 L1711.3,90.0 L1716.2,88.4 L1721.1,86.8 L1726.0,85.3 L1730.9,83.7 L1735.8,82.1 L1740.7,80.6 L1745.6,79.0 L1750.5,77.5 L1755.5,75.9 L1760.4,74.3 L1765.3,72.8 L1770.3,71.2"/>
<path class="cv" stroke="#84955a" stroke-dasharray="31.5 28.74" stroke-dashoffset="-3.8" d="M163.5,1027.5 L163.6,1027.4 L163.7,1027.1 L163.9,1026.7 L164.2,1026.2 L164.5,1025.6 L164.8,1025.0 L165.1,1024.2 L165.5,1023.5 L165.9,1022.6 L166.4,1021.7 L166.9,1020.8 L167.4,1019.8 L167.9,1018.7 L168.5,1017.6 L169.0,1016.5 L169.6,1015.3 L170.3,1014.0 L170.9,1012.7 L171.6,1011.4 L172.3,1010.0 L173.0,1008.6 L173.7,1007.1 L174.5,1005.6 L175.2,1004.1 L176.0,1002.5 L176.9,1000.9 L177.7,999.2 L178.5,997.5 L179.4,995.8 L180.3,994.0 L181.2,992.2 L182.1,990.3 L183.1,988.4 L184.0,986.5 L185.0,984.6 L186.0,982.6 L187.0,980.6 L188.0,978.5 L189.1,976.4 L190.1,974.3 L191.2,972.2 L192.3,970.0 L193.4,967.8 L194.5,965.6 L195.6,963.3 L196.8,961.0 L197.9,958.7 L199.1,956.4 L200.3,954.0 L201.5,951.6 L202.7,949.2 L204.0,946.8 L205.2,944.3 L206.5,941.8 L207.8,939.3 L209.1,936.8 L210.4,934.3 L211.7,931.7 L213.1,929.1 L214.4,926.5 L215.8,923.9 L217.1,921.3 L218.5,918.7 L219.9,916.1 L221.4,913.4 L222.8,910.8 L224.2,908.1 L225.7,905.5 L227.2,902.8 L228.6,900.1 L230.1,897.5 L231.6,894.8 L233.2,892.1 L234.7,889.4 L236.2,886.8 L237.8,884.1 L239.4,881.5 L241.0,878.8 L242.5,876.2 L244.2,873.5 L245.8,870.9 L247.4,868.3 L249.0,865.7 L250.7,863.1 L252.4,860.5 L254.1,857.9 L255.7,855.3 L257.4,852.8 L259.2,850.3 L260.9,847.7 L262.6,845.2 L264.4,842.7 L266.1,840.3 L267.9,837.8 L269.7,835.3 L271.5,832.9 L273.3,830.5 L275.1,828.0 L276.9,825.7 L278.8,823.3 L280.6,820.9 L282.5,818.6 L284.3,816.2 L286.2,813.9 L288.1,811.6 L290.0,809.3 L291.9,807.0 L293.9,804.7 L295.8,802.4 L297.8,800.2 L299.7,797.9 L301.7,795.7 L303.7,793.5 L305.6,791.2 L307.6,789.0 L309.7,786.8 L311.7,784.6 L313.7,782.4 L315.8,780.2 L317.8,778.0 L319.9,775.7 L321.9,773.5 L324.0,771.3 L326.1,769.1 L328.2,766.9 L330.3,764.7 L332.5,762.4 L334.6,760.2 L336.7,758.0 L338.9,755.7 L341.1,753.5 L343.2,751.2 L345.4,749.0 L347.6,746.7 L349.8,744.4 L352.0,742.2 L354.2,739.9 L356.5,737.6 L358.7,735.4 L361.0,733.1 L363.2,730.8 L365.5,728.6 L367.8,726.3 L370.1,724.1 L372.4,721.8 L374.7,719.6 L377.0,717.4 L379.3,715.2 L381.7,713.0 L384.0,710.8 L386.4,708.6 L388.7,706.4 L391.1,704.2 L393.5,702.1 L395.9,699.9 L398.3,697.8 L400.7,695.7 L403.1,693.6 L405.6,691.5 L408.0,689.4 L410.5,687.4 L412.9,685.3 L415.4,683.3 L417.9,681.2 L420.3,679.2 L422.8,677.2 L425.3,675.2 L427.9,673.2 L430.4,671.2 L432.9,669.2 L435.4,667.2 L438.0,665.2 L440.6,663.2 L443.1,661.3 L445.7,659.3 L448.3,657.3 L450.9,655.3 L453.5,653.4 L456.1,651.4 L458.7,649.4 L461.3,647.4 L464.0,645.4 L466.6,643.5 L469.3,641.5 L471.9,639.5 L474.6,637.5 L477.3,635.5 L480.0,633.5 L482.7,631.5 L485.4,629.5 L488.1,627.5 L490.8,625.5 L493.6,623.5 L496.3,621.5 L499.0,619.5 L501.8,617.6 L504.6,615.6 L507.3,613.6 L510.1,611.6 L512.9,609.6 L515.7,607.7 L518.5,605.7 L521.3,603.8 L524.2,601.8 L527.0,599.8 L529.8,597.9 L532.7,595.9 L535.5,594.0 L538.4,592.0 L541.3,590.1 L544.2,588.2 L547.1,586.2 L550.0,584.3 L552.9,582.4 L555.8,580.4 L558.7,578.5 L561.6,576.6 L564.6,574.7 L567.5,572.7 L570.5,570.8 L573.4,568.9 L576.4,567.0 L579.4,565.1 L582.4,563.2 L585.4,561.3 L588.4,559.4 L591.4,557.5 L594.4,555.6 L597.4,553.7 L600.5,551.8 L603.5,549.9 L606.6,548.0 L609.6,546.1 L612.7,544.2 L615.8,542.4 L618.9,540.5 L621.9,538.6 L625.0,536.7 L628.2,534.9 L631.3,533.0 L634.4,531.1 L637.5,529.2 L640.7,527.4 L643.8,525.5 L647.0,523.7 L650.1,521.8 L653.3,519.9 L656.5,518.1 L659.7,516.2 L662.8,514.4 L666.0,512.5 L669.2,510.7 L672.5,508.8 L675.7,507.0 L678.9,505.2 L682.2,503.3 L685.4,501.5 L688.7,499.6 L691.9,497.8 L695.2,496.0 L698.5,494.1 L701.7,492.3 L705.0,490.5 L708.3,488.7 L711.6,486.8 L714.9,485.0 L718.3,483.2 L721.6,481.4 L724.9,479.6 L728.3,477.7 L731.6,475.9 L735.0,474.1 L738.3,472.3 L741.7,470.5 L745.1,468.7 L748.5,466.9 L751.9,465.1 L755.3,463.3 L758.7,461.5 L762.1,459.7 L765.5,457.9 L769.0,456.1 L772.4,454.3 L775.9,452.5 L779.3,450.7 L782.8,448.9 L786.2,447.1 L789.7,445.4 L793.2,443.6 L796.7,441.8 L800.2,440.0 L803.7,438.2 L807.2,436.5 L810.7,434.7 L814.2,432.9 L817.8,431.1 L821.3,429.4 L824.9,427.6 L828.4,425.8 L832.0,424.1 L835.5,422.3 L839.1,420.5 L842.7,418.8 L846.3,417.0 L849.9,415.2 L853.5,413.5 L857.1,411.7 L860.7,410.0 L864.4,408.2 L868.0,406.5 L871.6,404.7 L875.3,403.0 L878.9,401.2 L882.6,399.5 L886.3,397.7 L889.9,396.0 L893.6,394.2 L897.3,392.5 L901.0,390.7 L904.7,389.0 L908.4,387.3 L912.1,385.5 L915.8,383.8 L919.6,382.1 L923.3,380.3 L927.1,378.6 L930.8,376.9 L934.6,375.1 L938.3,373.4 L942.1,371.7 L945.9,369.9 L949.7,368.2 L953.5,366.5 L957.3,364.8 L961.1,363.1 L964.9,361.3 L968.7,359.6 L972.5,357.9 L976.4,356.2 L980.2,354.5 L984.0,352.8 L987.9,351.0 L991.8,349.3 L995.6,347.6 L999.5,345.9 L1003.4,344.2 L1007.3,342.5 L1011.2,340.8 L1015.1,339.1 L1019.0,337.4 L1022.9,335.7 L1026.8,334.0 L1030.7,332.3 L1034.7,330.6 L1038.6,328.9 L1042.6,327.2 L1046.5,325.5 L1050.5,323.8 L1054.4,322.1 L1058.4,320.4 L1062.4,318.7 L1066.4,317.0 L1070.4,315.4 L1074.4,313.7 L1078.4,312.0 L1082.4,310.3 L1086.4,308.6 L1090.4,306.9 L1094.5,305.2 L1098.5,303.6 L1102.6,301.9 L1106.6,300.2 L1110.7,298.5 L1114.7,296.9 L1118.8,295.2 L1122.9,293.5 L1127.0,291.8 L1131.1,290.2 L1135.2,288.5 L1139.3,286.8 L1143.4,285.1 L1147.5,283.5 L1151.6,281.8 L1155.8,280.1 L1159.9,278.5 L1164.0,276.8 L1168.2,275.1 L1172.3,273.5 L1176.5,271.8 L1180.7,270.2 L1184.9,268.5 L1189.0,266.8 L1193.2,265.2 L1197.4,263.5 L1201.6,261.9 L1205.8,260.2 L1210.0,258.6 L1214.3,256.9 L1218.5,255.3 L1222.7,253.6 L1227.0,252.0 L1231.2,250.3 L1235.5,248.7 L1239.7,247.0 L1244.0,245.4 L1248.3,243.7 L1252.5,242.1 L1256.8,240.4 L1261.1,238.8 L1265.4,237.1 L1269.7,235.5 L1274.0,233.9 L1278.3,232.2 L1282.7,230.6 L1287.0,229.0 L1291.3,227.3 L1295.7,225.7 L1300.0,224.0 L1304.4,222.4 L1308.7,220.8 L1313.1,219.1 L1317.5,217.5 L1321.8,215.9 L1326.2,214.3 L1330.6,212.6 L1335.0,211.0 L1339.4,209.4 L1343.8,207.7 L1348.2,206.1 L1352.7,204.5 L1357.1,202.9 L1361.5,201.3 L1366.0,199.6 L1370.4,198.0 L1374.9,196.4 L1379.3,194.8 L1383.8,193.2 L1388.3,191.5 L1392.7,189.9 L1397.2,188.3 L1401.7,186.7 L1406.2,185.1 L1410.7,183.5 L1415.2,181.8 L1419.7,180.2 L1424.3,178.6 L1428.8,177.0 L1433.3,175.4 L1437.8,173.8 L1442.4,172.2 L1446.9,170.6 L1451.5,169.0 L1456.1,167.4 L1460.6,165.8 L1465.2,164.2 L1469.8,162.6 L1474.4,161.0 L1479.0,159.4 L1483.6,157.8 L1488.2,156.2 L1492.8,154.6 L1497.4,153.0 L1502.0,151.4 L1506.6,149.8 L1511.3,148.2 L1515.9,146.6 L1520.6,145.0 L1525.2,143.4 L1529.9,141.8 L1534.5,140.2 L1539.2,138.6 L1543.9,137.0 L1548.6,135.4 L1553.3,133.8 L1558.0,132.3 L1562.7,130.7 L1567.4,129.1 L1572.1,127.5 L1576.8,125.9 L1581.5,124.3 L1586.2,122.7 L1591.0,121.2 L1595.7,119.6 L1600.5,118.0 L1605.2,116.4 L1610.0,114.8 L1614.7,113.2 L1619.5,111.7 L1624.3,110.1 L1629.1,108.5 L1633.9,106.9 L1638.7,105.4 L1643.5,103.8 L1648.3,102.2 L1653.1,100.6 L1657.9,99.1 L1662.7,97.5 L1667.5,95.9 L1672.4,94.3 L1677.2,92.8 L1682.1,91.2 L1686.9,89.6 L1691.8,88.1 L1696.6,86.5 L1701.5,84.9 L1706.4,83.4 L1711.3,81.8 L1716.2,80.2 L1721.1,78.7 L1726.0,77.1 L1730.9,75.5 L1735.8,74.0 L1740.7,72.4 L1745.6,70.9 L1750.5,69.3 L1755.5,67.7 L1760.4,66.2 L1765.3,64.6 L1770.3,63.1"/>
<path class="cv" stroke="#1c1c1c" stroke-dasharray="31.5 28.74" stroke-dashoffset="-3.8" d="M163.5,1027.5 L163.6,1027.4 L163.7,1027.1 L163.9,1026.6 L164.2,1026.1 L164.5,1025.6 L164.8,1024.9 L165.1,1024.2 L165.5,1023.4 L165.9,1022.5 L166.4,1021.6 L166.9,1020.6 L167.4,1019.6 L167.9,1018.5 L168.5,1017.4 L169.0,1016.2 L169.6,1015.0 L170.3,1013.7 L170.9,1012.4 L171.6,1011.0 L172.3,1009.6 L173.0,1008.1 L173.7,1006.6 L174.5,1005.1 L175.2,1003.5 L176.0,1001.9 L176.9,1000.2 L177.7,998.5 L178.5,996.8 L179.4,995.0 L180.3,993.2 L181.2,991.4 L182.1,989.5 L183.1,987.6 L184.0,985.6 L185.0,983.6 L186.0,981.6 L187.0,979.6 L188.0,977.5 L189.1,975.4 L190.1,973.2 L191.2,971.0 L192.3,968.8 L193.4,966.6 L194.5,964.3 L195.6,962.0 L196.8,959.7 L197.9,957.3 L199.1,955.0 L200.3,952.6 L201.5,950.1 L202.7,947.7 L204.0,945.2 L205.2,942.7 L206.5,940.2 L207.8,937.7 L209.1,935.1 L210.4,932.6 L211.7,930.0 L213.1,927.4 L214.4,924.8 L215.8,922.2 L217.1,919.5 L218.5,916.9 L219.9,914.2 L221.4,911.6 L222.8,908.9 L224.2,906.2 L225.7,903.5 L227.2,900.9 L228.6,898.2 L230.1,895.5 L231.6,892.8 L233.2,890.1 L234.7,887.5 L236.2,884.8 L237.8,882.1 L239.4,879.4 L241.0,876.8 L242.5,874.2 L244.2,871.5 L245.8,868.9 L247.4,866.3 L249.0,863.7 L250.7,861.1 L252.4,858.5 L254.1,855.9 L255.7,853.3 L257.4,850.8 L259.2,848.3 L260.9,845.8 L262.6,843.2 L264.4,840.8 L266.1,838.3 L267.9,835.8 L269.7,833.4 L271.5,830.9 L273.3,828.6 L275.1,826.1 L276.9,823.8 L278.8,821.4 L280.6,819.0 L282.5,816.7 L284.3,814.4 L286.2,812.1 L288.1,809.8 L290.0,807.5 L291.9,805.2 L293.9,802.9 L295.8,800.7 L297.8,798.4 L299.7,796.2 L301.7,794.0 L303.7,791.7 L305.6,789.5 L307.6,787.3 L309.7,785.1 L311.7,782.9 L313.7,780.7 L315.8,778.5 L317.8,776.3 L319.9,774.0 L321.9,771.8 L324.0,769.6 L326.1,767.4 L328.2,765.2 L330.3,762.9 L332.5,760.7 L334.6,758.4 L336.7,756.2 L338.9,753.9 L341.1,751.7 L343.2,749.4 L345.4,747.1 L347.6,744.9 L349.8,742.6 L352.0,740.3 L354.2,738.0 L356.5,735.7 L358.7,733.4 L361.0,731.1 L363.2,728.9 L365.5,726.6 L367.8,724.3 L370.1,722.0 L372.4,719.8 L374.7,717.5 L377.0,715.3 L379.3,713.0 L381.7,710.8 L384.0,708.6 L386.4,706.4 L388.7,704.2 L391.1,702.0 L393.5,699.9 L395.9,697.7 L398.3,695.6 L400.7,693.5 L403.1,691.4 L405.6,689.3 L408.0,687.2 L410.5,685.2 L412.9,683.1 L415.4,681.1 L417.9,679.0 L420.3,677.0 L422.8,675.0 L425.3,673.0 L427.9,671.0 L430.4,669.0 L432.9,667.0 L435.4,665.1 L438.0,663.1 L440.6,661.1 L443.1,659.2 L445.7,657.2 L448.3,655.2 L450.9,653.3 L453.5,651.3 L456.1,649.3 L458.7,647.3 L461.3,645.4 L464.0,643.4 L466.6,641.4 L469.3,639.4 L471.9,637.4 L474.6,635.4 L477.3,633.5 L480.0,631.5 L482.7,629.5 L485.4,627.5 L488.1,625.5 L490.8,623.5 L493.6,621.5 L496.3,619.5 L499.0,617.5 L501.8,615.5 L504.6,613.5 L507.3,611.5 L510.1,609.6 L512.9,607.6 L515.7,605.6 L518.5,603.7 L521.3,601.7 L524.2,599.8 L527.0,597.8 L529.8,595.8 L532.7,593.9 L535.5,591.9 L538.4,590.0 L541.3,588.1 L544.2,586.1 L547.1,584.2 L550.0,582.3 L552.9,580.3 L555.8,578.4 L558.7,576.5 L561.6,574.5 L564.6,572.6 L567.5,570.7 L570.5,568.8 L573.4,566.9 L576.4,565.0 L579.4,563.1 L582.4,561.1 L585.4,559.2 L588.4,557.3 L591.4,555.4 L594.4,553.5 L597.4,551.6 L600.5,549.8 L603.5,547.9 L606.6,546.0 L609.6,544.1 L612.7,542.2 L615.8,540.3 L618.9,538.4 L621.9,536.6 L625.0,534.7 L628.2,532.8 L631.3,530.9 L634.4,529.1 L637.5,527.2 L640.7,525.3 L643.8,523.5 L647.0,521.6 L650.1,519.8 L653.3,517.9 L656.5,516.0 L659.7,514.2 L662.8,512.3 L666.0,510.5 L669.2,508.6 L672.5,506.8 L675.7,505.0 L678.9,503.1 L682.2,501.3 L685.4,499.4 L688.7,497.6 L691.9,495.8 L695.2,493.9 L698.5,492.1 L701.7,490.3 L705.0,488.4 L708.3,486.6 L711.6,484.8 L714.9,483.0 L718.3,481.2 L721.6,479.3 L724.9,477.5 L728.3,475.7 L731.6,473.9 L735.0,472.1 L738.3,470.3 L741.7,468.5 L745.1,466.7 L748.5,464.9 L751.9,463.1 L755.3,461.2 L758.7,459.4 L762.1,457.7 L765.5,455.9 L769.0,454.1 L772.4,452.3 L775.9,450.5 L779.3,448.7 L782.8,446.9 L786.2,445.1 L789.7,443.3 L793.2,441.5 L796.7,439.8 L800.2,438.0 L803.7,436.2 L807.2,434.4 L810.7,432.6 L814.2,430.9 L817.8,429.1 L821.3,427.3 L824.9,425.6 L828.4,423.8 L832.0,422.0 L835.5,420.3 L839.1,418.5 L842.7,416.7 L846.3,415.0 L849.9,413.2 L853.5,411.4 L857.1,409.7 L860.7,407.9 L864.4,406.2 L868.0,404.4 L871.6,402.7 L875.3,400.9 L878.9,399.2 L882.6,397.4 L886.3,395.7 L889.9,393.9 L893.6,392.2 L897.3,390.4 L901.0,388.7 L904.7,387.0 L908.4,385.2 L912.1,383.5 L915.8,381.8 L919.6,380.0 L923.3,378.3 L927.1,376.6 L930.8,374.8 L934.6,373.1 L938.3,371.4 L942.1,369.6 L945.9,367.9 L949.7,366.2 L953.5,364.5 L957.3,362.7 L961.1,361.0 L964.9,359.3 L968.7,357.6 L972.5,355.9 L976.4,354.1 L980.2,352.4 L984.0,350.7 L987.9,349.0 L991.8,347.3 L995.6,345.6 L999.5,343.9 L1003.4,342.2 L1007.3,340.5 L1011.2,338.8 L1015.1,337.1 L1019.0,335.4 L1022.9,333.6 L1026.8,331.9 L1030.7,330.2 L1034.7,328.6 L1038.6,326.9 L1042.6,325.2 L1046.5,323.5 L1050.5,321.8 L1054.4,320.1 L1058.4,318.4 L1062.4,316.7 L1066.4,315.0 L1070.4,313.3 L1074.4,311.6 L1078.4,309.9 L1082.4,308.3 L1086.4,306.6 L1090.4,304.9 L1094.5,303.2 L1098.5,301.5 L1102.6,299.8 L1106.6,298.2 L1110.7,296.5 L1114.7,294.8 L1118.8,293.1 L1122.9,291.5 L1127.0,289.8 L1131.1,288.1 L1135.2,286.4 L1139.3,284.8 L1143.4,283.1 L1147.5,281.4 L1151.6,279.8 L1155.8,278.1 L1159.9,276.4 L1164.0,274.8 L1168.2,273.1 L1172.3,271.4 L1176.5,269.8 L1180.7,268.1 L1184.9,266.5 L1189.0,264.8 L1193.2,263.1 L1197.4,261.5 L1201.6,259.8 L1205.8,258.2 L1210.0,256.5 L1214.3,254.9 L1218.5,253.2 L1222.7,251.6 L1227.0,249.9 L1231.2,248.3 L1235.5,246.6 L1239.7,245.0 L1244.0,243.3 L1248.3,241.7 L1252.5,240.0 L1256.8,238.4 L1261.1,236.7 L1265.4,235.1 L1269.7,233.5 L1274.0,231.8 L1278.3,230.2 L1282.7,228.5 L1287.0,226.9 L1291.3,225.3 L1295.7,223.6 L1300.0,222.0 L1304.4,220.4 L1308.7,218.7 L1313.1,217.1 L1317.5,215.5 L1321.8,213.8 L1326.2,212.2 L1330.6,210.6 L1335.0,209.0 L1339.4,207.3 L1343.8,205.7 L1348.2,204.1 L1352.7,202.5 L1357.1,200.8 L1361.5,199.2 L1366.0,197.6 L1370.4,196.0 L1374.9,194.4 L1379.3,192.7 L1383.8,191.1 L1388.3,189.5 L1392.7,187.9 L1397.2,186.3 L1401.7,184.6 L1406.2,183.0 L1410.7,181.4 L1415.2,179.8 L1419.7,178.2 L1424.3,176.6 L1428.8,175.0 L1433.3,173.4 L1437.8,171.8 L1442.4,170.2 L1446.9,168.5 L1451.5,166.9 L1456.1,165.3 L1460.6,163.7 L1465.2,162.1 L1469.8,160.5 L1474.4,158.9 L1479.0,157.3 L1483.6,155.7 L1488.2,154.1 L1492.8,152.5 L1497.4,150.9 L1502.0,149.3 L1506.6,147.7 L1511.3,146.1 L1515.9,144.5 L1520.6,142.9 L1525.2,141.3 L1529.9,139.8 L1534.5,138.2 L1539.2,136.6 L1543.9,135.0 L1548.6,133.4 L1553.3,131.8 L1558.0,130.2 L1562.7,128.6 L1567.4,127.0 L1572.1,125.5 L1576.8,123.9 L1581.5,122.3 L1586.2,120.7 L1591.0,119.1 L1595.7,117.5 L1600.5,115.9 L1605.2,114.4 L1610.0,112.8 L1614.7,111.2 L1619.5,109.6 L1624.3,108.0 L1629.1,106.5 L1633.9,104.9 L1638.7,103.3 L1643.5,101.7 L1648.3,100.2 L1653.1,98.6 L1657.9,97.0 L1662.7,95.4 L1667.5,93.9 L1672.4,92.3 L1677.2,90.7 L1682.1,89.2 L1686.9,87.6 L1691.8,86.0 L1696.6,84.5 L1701.5,82.9 L1706.4,81.3 L1711.3,79.8 L1716.2,78.2 L1721.1,76.6 L1726.0,75.1 L1730.9,73.5 L1735.8,71.9 L1740.7,70.4 L1745.6,68.8 L1750.5,67.3 L1755.5,65.7 L1760.4,64.1 L1765.3,62.6 L1770.3,61.0"/>
<path class="cv" stroke="#1c1c1c" d="M163.5,1027.5 L163.9,1026.6"/>
</g>
<rect class="ax" x="163.5" y="38.2" width="1683.4" height="989.3"/>
<path class="ax" d="M350.5,1027.5 v-14.5 M350.5,38.2 v14.5 M537.6,1027.5 v-14.5 M537.6,38.2 v14.5 M724.6,1027.5 v-14.5 M724.6,38.2 v14.5 M911.7,1027.5 v-14.5 M911.7,38.2 v14.5 M1098.7,1027.5 v-14.5 M1098.7,38.2 v14.5 M1285.8,1027.5 v-14.5 M1285.8,38.2 v14.5 M1472.8,1027.5 v-14.5 M1472.8,38.2 v14.5 M1659.9,1027.5 v-14.5 M1659.9,38.2 v14.5 M163.5,862.6 h14.5 M1846.9,862.6 h-14.5 M163.5,697.7 h14.5 M1846.9,697.7 h-14.5 M163.5,532.9 h14.5 M1846.9,532.9 h-14.5 M163.5,368.0 h14.5 M1846.9,368.0 h-14.5 M163.5,203.1 h14.5 M1846.9,203.1 h-14.5"/>
<text class="tk" transform="translate(163.5,1088.4) scale(1,1.04)" text-anchor="middle">0</text>
<text class="tk" transform="translate(350.5,1088.4) scale(1,1.04)" text-anchor="middle">0.5</text>
<text class="tk" transform="translate(537.6,1088.4) scale(1,1.04)" text-anchor="middle">1</text>
<text class="tk" transform="translate(724.6,1088.4) scale(1,1.04)" text-anchor="middle">1.5</text>
<text class="tk" transform="translate(909.5,1088.4) scale(1,1.04)" text-anchor="middle">2</text>
<text class="tk" transform="translate(1098.7,1088.4) scale(1,1.04)" text-anchor="middle">2.5</text>
<text class="tk" transform="translate(1285.8,1088.4) scale(1,1.04)" text-anchor="middle">3</text>
<text class="tk" transform="translate(1472.8,1088.4) scale(1,1.04)" text-anchor="middle">3.5</text>
<text class="tk" transform="translate(1659.9,1088.4) scale(1,1.04)" text-anchor="middle">4</text>
<text class="tk" transform="translate(1846.9,1088.4) scale(1,1.04)" text-anchor="middle">4.5</text>
<text class="tk" transform="translate(147.4,1047.1) scale(1,1.05)" text-anchor="end">0</text>
<text class="tk" transform="translate(147.4,882.2) scale(1,1.05)" text-anchor="end">50</text>
<text class="tk" transform="translate(147.4,717.7) scale(1,1.05)" text-anchor="end">100</text>
<text class="tk" transform="translate(147.4,550.9) scale(1,1.05)" text-anchor="end">150</text>
<text class="tk" transform="translate(147.4,386.4) scale(1,1.05)" text-anchor="end">200</text>
<text class="tk" transform="translate(147.4,222.5) scale(1,1.05)" text-anchor="end">250</text>
<text class="tk" transform="translate(147.4,55.8) scale(1,1.05)" text-anchor="end">300</text>
<text class="lb" transform="translate(1006.0,1153.5) scale(1,1.01)" text-anchor="middle">time (t)</text>
<text class="lb" style="font-size:48px" transform="translate(62.8,450.3) rotate(-90) scale(1.04,1)" text-anchor="middle">R(t)</text>
<text transform="translate(1741.2,1168.1) scale(1,1.04)" font-size="50px" fill="#3a3a3a">×</text>
<text class="tk" transform="translate(1774.2,1162.4) scale(1,1.04)" text-anchor="start">10</text>
<text transform="translate(1825.6,1141.3) scale(1,1.04)" font-size="36.8px">8</text>
<rect x="1575.6" y="312.5" width="239.6" height="368.8" fill="#fff" stroke="#111111" stroke-width="1.6"/>
<path class="cv" stroke="#00B6E3" d="M1582.6,342.3 H1658.4"/>
<text class="lg" transform="translate(1662.5,358.9) scale(1,1.04)" text-anchor="start">N=100</text>
<path class="cv" stroke="#0072BD" d="M1582.6,394.2 H1658.4"/>
<text class="lg" transform="translate(1662.5,410.8) scale(1,1.04)" text-anchor="start">N=200</text>
<path class="cv" stroke="#EC5419" d="M1582.6,446.1 H1658.4"/>
<text class="lg" transform="translate(1662.5,462.7) scale(1,1.04)" text-anchor="start">N=300</text>
<path class="cv" stroke="#F7AB05" d="M1582.6,498.0 H1658.4"/>
<text class="lg" transform="translate(1662.5,514.6) scale(1,1.04)" text-anchor="start">N=600</text>
<path class="cv" stroke="#8A308C" stroke-dasharray="31.2 28.5" d="M1582.6,549.9 H1658.4"/>
<text class="lg" transform="translate(1662.5,566.5) scale(1,1.04)" text-anchor="start">N=1000</text>
<path class="cv" stroke="#73A82E" stroke-dasharray="31.2 28.5" d="M1582.6,601.8 H1658.4"/>
<text class="lg" transform="translate(1662.5,618.4) scale(1,1.04)" text-anchor="start">N=2000</text>
<path class="cv" stroke="#1c1c1c" stroke-dasharray="31.2 28.5" d="M1582.6,653.7 H1658.4"/>
<text class="lg" transform="translate(1662.5,670.3) scale(1,1.04)" text-anchor="start">N=3000</text>
</svg></body></html>
